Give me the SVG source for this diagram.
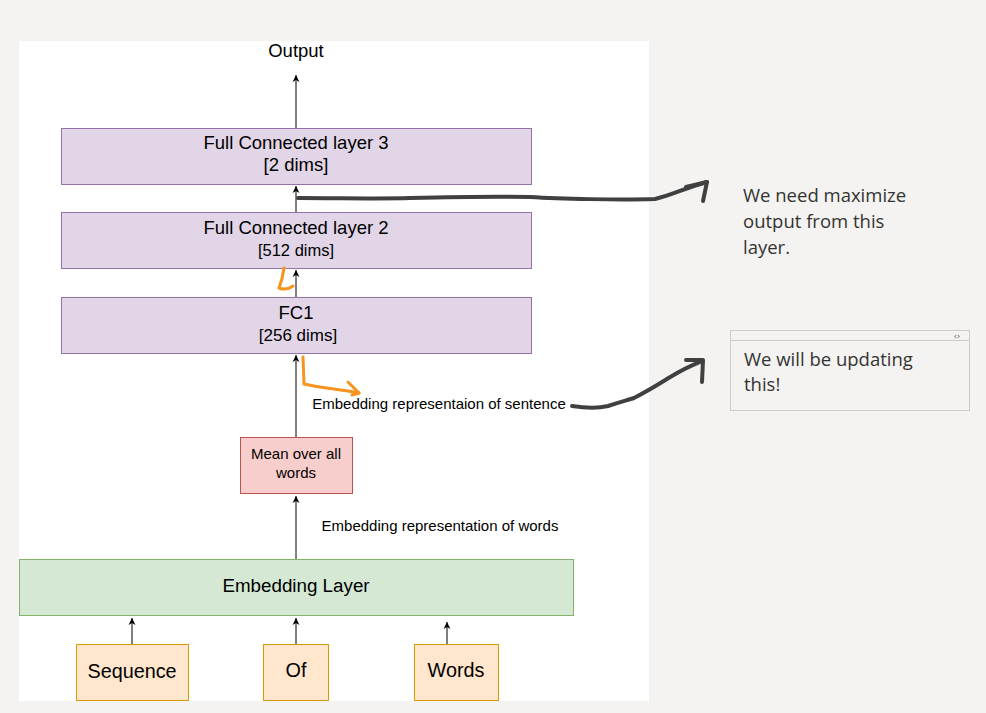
<svg xmlns="http://www.w3.org/2000/svg" width="986" height="713" viewBox="0 0 986 713">
<defs>
<marker id="ah" markerWidth="8" markerHeight="8" refX="7" refY="4" orient="auto" markerUnits="userSpaceOnUse">
<path d="M0,0.5 L7,4 L0,7.5 L2,4 Z" fill="#000"/>
</marker>
<style>
.t{font-family:"Liberation Sans",Arial,sans-serif;fill:#000;text-anchor:middle}
.purple{fill:#e1d5e7;stroke:#9673a6;stroke-width:1}
.red{fill:#f8cecc;stroke:#b85450;stroke-width:1}
.green{fill:#d5e8d4;stroke:#82b366;stroke-width:1}
.orange{fill:#ffe6cc;stroke:#d79b00;stroke-width:1}
.c{stroke:#000;stroke-width:1;fill:none;marker-end:url(#ah)}
.ink{stroke:#404040;stroke-width:4;fill:none;stroke-linecap:round;stroke-linejoin:round}
.hl{stroke:#f7931e;stroke-width:3;fill:none;stroke-linecap:round;stroke-linejoin:round}
.note{font-family:"Open Sans","Noto Sans",sans-serif;font-size:18.5px;fill:#333}
</style>
</defs>
<rect width="986" height="713" fill="#f4f3f1"/>
<rect x="19" y="41" width="630" height="660" fill="#ffffff"/>

<g id="connectors">
<path class="c" d="M296,128 V75"/>
<path class="c" d="M296,212 V186"/>
<path class="c" d="M296,297 V270"/>
<path class="c" d="M296,437 V355"/>
<path class="c" d="M296,559 V496"/>
<path class="c" d="M132,644 V618"/>
<path class="c" d="M296,644 V618"/>
<path class="c" d="M447,644 V622"/>
</g>

<g id="output"><text class="t" x="296" y="57" font-size="18.5">Output</text></g>
<g id="fc3"><rect class="purple" x="61.5" y="128.5" width="470" height="56"/>
<text class="t" x="296" y="149" font-size="18.5">Full Connected layer 3</text>
<text class="t" x="296" y="171" font-size="18.5">[2 dims]</text></g>
<g id="fc2"><rect class="purple" x="61.5" y="212.5" width="470" height="56"/>
<text class="t" x="296" y="234" font-size="18.5">Full Connected layer 2</text>
<text class="t" x="296" y="256" font-size="16.5">[512 dims]</text></g>
<g id="fc1"><rect class="purple" x="61.5" y="297.5" width="470" height="56"/>
<text class="t" x="296" y="319" font-size="18.5">FC1</text>
<text class="t" x="298" y="341" font-size="17">[256 dims]</text></g>
<g id="mean"><rect class="red" x="240.5" y="437.5" width="112" height="56"/>
<text class="t" x="296" y="459" font-size="15">Mean over all</text>
<text class="t" x="296" y="478" font-size="15">words</text></g>
<g id="embedding"><rect class="green" x="19.5" y="559.5" width="554" height="56"/>
<text class="t" x="296" y="592" font-size="18.8">Embedding Layer</text></g>
<g id="sequence"><rect class="orange" x="76.5" y="644.5" width="112" height="56"/>
<text class="t" x="132" y="678" font-size="19.8">Sequence</text></g>
<g id="of"><rect class="orange" x="263.5" y="644.5" width="65" height="56"/>
<text class="t" x="296" y="677" font-size="19.8">Of</text></g>
<g id="words"><rect class="orange" x="414.5" y="644.5" width="84" height="56"/>
<text class="t" x="456" y="677" font-size="19.8">Words</text></g>

<g id="labels">
<text class="t" x="439" y="409" font-size="15">Embedding representaion of sentence</text>
<text class="t" x="440" y="531" font-size="15">Embedding representation of words</text>
</g>

<g id="annotations">
<path class="ink" d="M298,198 C340,198 380,199 410,198 C450,197 490,196 530,197 C560,199 620,200 655,199 C670,196 685,188 707,182"/>
<path class="ink" d="M686,187 L707,182 L703,201"/>
<path class="ink" d="M572,406 C585,408 600,408 608,406 C620,402 628,400 634,398 C650,390 662,382 672,376 C685,368 695,364 702,361"/>
<path class="ink" d="M686,360 L703,360 L702,382"/>
<path class="hl" d="M284,268 C283,276 281,283 279,288 C284,290 289,289 293,286"/>
<path class="hl" d="M303,357 L304,384 C320,388 340,389 359,393"/>
<path class="hl" d="M348,382 L359,393 L352,395"/>
</g>

<g id="note1">
<text class="note" x="743" y="202">We need maximize</text>
<text class="note" x="743" y="228">output from this</text>
<text class="note" x="743" y="254">layer.</text>
</g>
<g id="note2">
<rect x="730.5" y="330.5" width="239" height="80" fill="#f4f3f1" stroke="#cccccc"/>
<line x1="730.5" y1="340.5" x2="969.5" y2="340.5" stroke="#cccccc"/>
<text x="957" y="338.5" font-family="'DejaVu Sans',sans-serif" font-size="8" fill="#555" text-anchor="middle">‹›</text>
<text class="note" x="744" y="366">We will be updating</text>
<text class="note" x="744" y="391">this!</text>
</g>
</svg>
